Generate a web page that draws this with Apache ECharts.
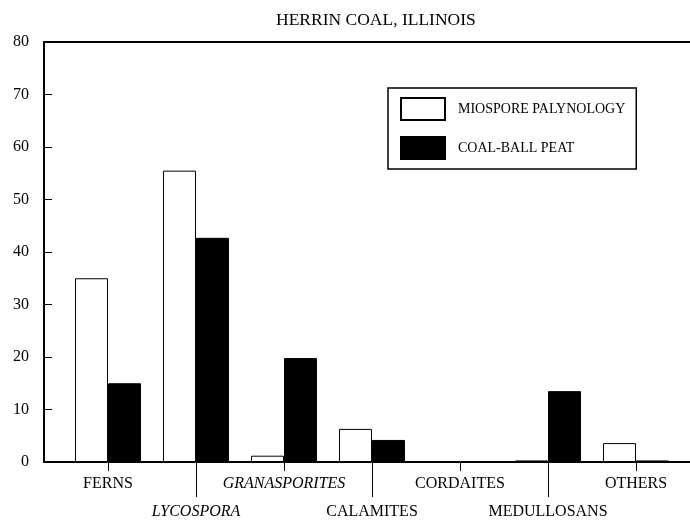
<!DOCTYPE html>
<html>
<head>
<meta charset="utf-8">
<script src="https://cdn.jsdelivr.net/npm/echarts@6/dist/echarts.min.js"></script>
<style>
  html, body { margin: 0; padding: 0; background: #fff; }
  #chart { width: 690px; height: 527px; }
</style>
</head>
<body>
<div id="chart"></div>
<script>
  // categories, italic ones are genus names
  const categories = ['FERNS', 'LYCOSPORA', 'GRANASPORITES', 'CALAMITES', 'CORDAITES', 'MEDULLOSANS', 'OTHERS']
  const italicCats = ['LYCOSPORA', 'GRANASPORITES']
  const miospore = [35, 55.5, 1.2, 6.3, 0, 0.3, 3.6]
  const coalBall = [15, 42.7, 19.8, 4.2, 0, 13.5, 0.3]
  const yTicks = [0, 10, 20, 30, 40, 50, 60, 70, 80]

  const font = 'Liberation Serif'
  let chart = echarts.init(document.getElementById('chart'))

  let catLabel = function (value) {
    return italicCats.indexOf(value) >= 0 ? '{i|' + value + '}' : value
  }
  let labelRich = {
    i: { fontStyle: 'italic', fontFamily: font, fontSize: 16, color: '#000' }
  }

  let option = {
    animation: false,
    title: {
      text: 'HERRIN COAL, ILLINOIS',
      left: 271,
      top: 6,
      textStyle: { fontFamily: font, fontSize: 17.5, fontWeight: 'normal', color: '#000' }
    },
    legend: {
      orient: 'vertical',
      left: 388,
      top: 88,
      padding: [9, 11, 9, 12],
      borderColor: '#000',
      borderWidth: 1.5,
      icon: 'rect',
      itemWidth: 44,
      itemHeight: 22,
      itemGap: 15,
      textStyle: { fontFamily: font, fontSize: 14, color: '#000', padding: [0, 0, 0, 8] },
      data: ['MIOSPORE PALYNOLOGY', 'COAL-BALL PEAT']
    },
    grid: [
      { left: 44, right: 0, top: 42, bottom: 65 },
      { left: 64, width: 616, top: 42, bottom: 65 }
    ],
    xAxis: [
      // frame lines (bottom and top)
      {
        gridIndex: 0, type: 'value', min: 0, max: 1, position: 'bottom',
        axisLine: { lineStyle: { color: '#000', width: 2 } },
        axisTick: { show: false }, axisLabel: { show: false }, splitLine: { show: false }
      },
      {
        gridIndex: 0, type: 'value', min: 0, max: 1, position: 'top',
        axisLine: { lineStyle: { color: '#000', width: 2 } },
        axisTick: { show: false }, axisLabel: { show: false }, splitLine: { show: false }
      },
      // category axis with upper labels
      {
        gridIndex: 1, type: 'category', data: categories, position: 'bottom',
        axisLine: { show: true, lineStyle: { opacity: 0 } },
        axisTick: {
          show: true, alignWithLabel: true, length: 9,
          interval: function (idx) { return idx % 2 === 0 },
          lineStyle: { color: '#000', width: 1 }
        },
        axisLabel: {
          interval: function (idx) { return idx % 2 === 0 },
          margin: 14, fontFamily: font, fontSize: 16, color: '#000',
          formatter: catLabel, rich: labelRich
        }
      },
      // category axis with lower labels
      {
        gridIndex: 1, type: 'category', data: categories, position: 'bottom', offset: 0,
        axisLine: { show: true, lineStyle: { opacity: 0 } },
        axisTick: {
          show: true, alignWithLabel: true, length: 35,
          interval: function (idx) { return idx % 2 === 1 },
          lineStyle: { color: '#000', width: 1 }
        },
        axisLabel: {
          interval: function (idx) { return idx % 2 === 1 },
          margin: 42, fontFamily: font, fontSize: 16, color: '#000',
          formatter: catLabel, rich: labelRich
        }
      }
    ],
    yAxis: [
      {
        gridIndex: 0, type: 'value', min: 0, max: 80, interval: 10,
        axisLine: { show: true, lineStyle: { color: '#000', width: 2 } },
        axisTick: { show: true, inside: true, length: 8, lineStyle: { color: '#000' } },
        axisLabel: {
          margin: 15, fontFamily: font, fontSize: 16, color: '#000',
          formatter: function (v) { return yTicks.indexOf(v) >= 0 ? String(v) : '' }
        },
        splitLine: { show: false }
      },
      {
        gridIndex: 1, type: 'value', min: 0, max: 80, interval: 10, show: false
      }
    ],
    series: [
      {
        name: 'MIOSPORE PALYNOLOGY',
        type: 'bar',
        xAxisIndex: 2,
        yAxisIndex: 1,
        barWidth: 33,
        barGap: '0%',
        data: miospore,
        itemStyle: { color: '#fff', borderColor: '#000', borderWidth: 1 }
      },
      {
        name: 'COAL-BALL PEAT',
        type: 'bar',
        xAxisIndex: 2,
        yAxisIndex: 1,
        barWidth: 33,
        barGap: '0%',
        data: coalBall,
        itemStyle: { color: '#000', borderColor: '#000', borderWidth: 1 }
      }
    ]
  }
  chart.setOption(option)
</script>
</body>
</html>
